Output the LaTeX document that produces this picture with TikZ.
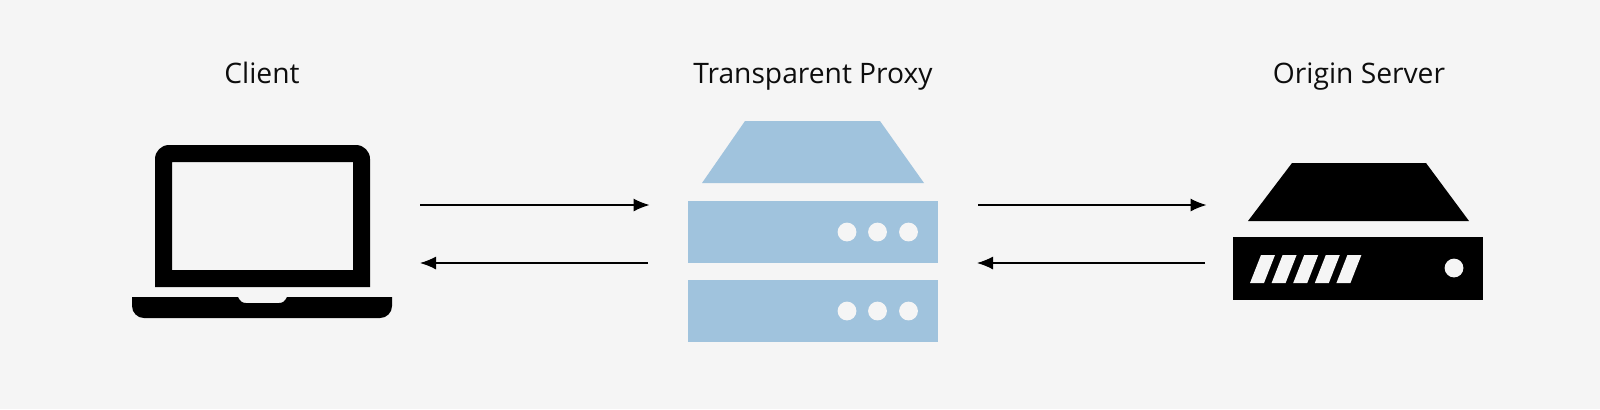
\documentclass[tikz,border=0pt]{standalone}
\usepackage{fontspec}
\setmainfont{Open Sans}
\definecolor{bgGray}{HTML}{F5F5F5}
\definecolor{proxyBlue}{HTML}{A0C3DD}
\tikzset{
	title/.style={font=\fontsize{14.1}{17}\selectfont, text=black!95, inner sep=0pt, anchor=base},
	link/.style={draw=black, line width=0.6pt, -{Latex[length=8pt,width=6.5pt]}},
	hole/.style={circle, fill=bgGray, inner sep=0pt, minimum size=9.4pt},
	proxyBox/.style={rectangle, fill=proxyBlue, inner sep=0pt, minimum width=125pt, minimum height=31pt},
	serverBox/.style={rectangle, fill=black, inner sep=0pt, minimum width=125pt, minimum height=31.5pt}
}
\usetikzlibrary{arrows.meta}
\begin{document}
\begin{tikzpicture}[x=0.5pt,y=-0.5pt]
	\fill[bgGray] (0,0) rectangle (1600,409);
	\useasboundingbox (0,0) rectangle (1600,409);

	% labels
	\node[title] (clientLabel) at (262,83) {Client};
	\node[title] (proxyLabel) at (813,83) {Transparent Proxy};
	\node[title] (serverLabel) at (1359,83) {Origin Server};

	% laptop
	\fill[even odd rule] (155,287) -- (155,159) arc[start angle=180,end angle=270,radius=14] -- (356,145)
		arc[start angle=270,end angle=360,radius=14] -- (370,287) -- cycle
		(172,162) rectangle (353,270);
	\fill (132,297) -- (238,297) .. controls (240,301) and (242,303) .. (246,303) -- (279,303)
		.. controls (283,303) and (285,301) .. (287,297) -- (392,297) -- (392,306)
		arc[start angle=0,end angle=90,radius=12] -- (144,318)
		arc[start angle=90,end angle=180,radius=12] -- cycle;

	% proxy
	\fill[proxyBlue] (745,121) -- (880,121) -- (924,183) -- (702,183) -- cycle;
	\node[proxyBox] (proxyUpper) at (813,232) {};
	\node[proxyBox] (proxyLower) at (813,311) {};
	\foreach \dotx in {847,877.5,908.5} {
		\node[hole] at (\dotx,232) {};
		\node[hole] at (\dotx,311) {};
	}

	% server
	\fill (1292,163) -- (1426,163) -- (1469,221) -- (1248,221) -- cycle;
	\node[serverBox] (serverBase) at (1358,268.5) {};
	\foreach \i in {0,...,4} {
		\fill[bgGray] ({1250+21.6*\i},283) -- ({1261+21.6*\i},255) -- ({1275+21.6*\i},255) -- ({1264+21.6*\i},283) -- cycle;
	}
	\node[hole] at (1454,268) {};

	% arrows
	\coordinate (clientOut) at (420,205);
	\coordinate (proxyIn) at (649.5,205);
	\coordinate (proxyBack) at (648,263);
	\coordinate (clientIn) at (420,263);
	\coordinate (proxyOut) at (978,205);
	\coordinate (serverIn) at (1206.5,205);
	\coordinate (serverBack) at (1205,263);
	\coordinate (proxyRet) at (977,263);
	\draw[link] (clientOut) -- (proxyIn);
	\draw[link] (proxyBack) -- (clientIn);
	\draw[link] (proxyOut) -- (serverIn);
	\draw[link] (serverBack) -- (proxyRet);
\end{tikzpicture}
\end{document}
